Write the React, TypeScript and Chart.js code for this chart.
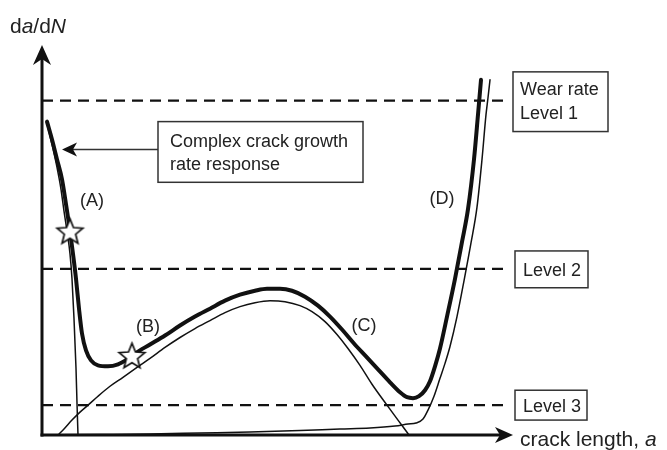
import React, { useEffect, useRef } from "react";
import { Chart, registerables } from "chart.js";

Chart.register(...registerables);

const FONT = '"Liberation Sans", Arial, Helvetica, sans-serif';

// Schematic units: crack length 0..470, da/dN 0..392
const X_MAX = 470;
const Y_MAX = 392;

// Thick composite curve: "Complex crack growth rate response"
const combinedResponse: [number, number][] = [
  [5, 315], [10, 297], [15, 277], [20, 257], [24, 232], [28, 205], [31, 182], [34, 157],
  [37, 127], [40, 102], [44, 85], [49, 75], [56, 70], [66, 69], [76, 71], [85, 76],
  [93, 82], [108, 91], [123, 100], [138, 110], [153, 119], [168, 127], [183, 135],
  [198, 141], [213, 145], [225, 147], [238, 147], [250, 145], [263, 139], [276, 130],
  [288, 119], [300, 106], [312, 92], [324, 79], [336, 66], [348, 53], [358, 43],
  [365, 38], [371, 37], [377, 39], [383, 45], [388, 54], [393, 69], [398, 87],
  [405, 119], [413, 157], [420, 194], [426, 227], [432, 277], [436, 322], [439, 357],
];

// Thin branch (A): short crack decay
const shortCrackBranch: [number, number][] = [
  [5, 313], [10, 292], [15, 269], [19, 247], [22, 225], [25, 205], [28, 182],
  [30, 157], [32, 117], [34, 67], [35, 32], [36, 0],
];

// Thin branch (B)-(C): long crack hump
const longCrackBranch: [number, number][] = [
  [16, 0], [22, 6], [30, 15], [38, 23], [46, 30], [56, 39], [68, 49], [81, 58],
  [95, 68], [108, 77], [123, 88], [138, 98], [153, 107], [168, 115], [183, 123],
  [198, 129], [213, 133], [228, 135], [243, 134], [258, 130], [270, 124], [283, 114],
  [295, 101], [306, 87], [318, 70], [330, 51], [345, 30], [356, 15], [367, 0],
];

// Thin branch (D): wear-driven growth
const wearBranch: [number, number][] = [
  [0, 0], [58, 0.5], [108, 1], [158, 2], [208, 3], [258, 4.5], [298, 6], [328, 7],
  [353, 9], [366, 11], [374, 12], [381, 16], [386, 25], [392, 39], [398, 57],
  [403, 72], [408, 89], [415, 119], [422, 155], [429, 193], [435, 229], [440, 277],
  [444, 322], [446, 339], [448, 357],
];

// Transition stars
const starPoints: [number, number][] = [[28, 205], [90, 80]];

// Wear rate levels
const levelRates = [336, 167, 30];
const levelLabels = [["Wear rate", "Level 1"], ["Level 2"], ["Level 3"]];
const levelLineEnd = 463;

const phaseLabels = ["(A)", "(B)", "(C)", "(D)"];
const calloutLines = ["Complex crack growth", "rate response"];

// Annotation layout (data units)
const layout = {
  phasePos: [[50, 235], [106, 109], [322, 110], [400, 237]] as [number, number][],
  callout: { x0: 116, x1: 321, y0: 315, y1: 254, arrowY: 287, arrowTip: 20, textX: 128, base: [289, 266] },
  levelBoxes: [
    { x0: 471, x1: 566, y0: 365, y1: 305, textX: 478, base: [342, 318] },
    { x0: 473, x1: 546, y0: 185, y1: 148, textX: 481, base: [160] },
    { x0: 473, x1: 545, y0: 45, y1: 15, textX: 481, base: [23] },
  ],
};

function makeStar(r: number): HTMLCanvasElement {
  const size = Math.ceil(r * 2 + 6);
  const c = document.createElement("canvas");
  c.width = size;
  c.height = size;
  const g = c.getContext("2d")!;
  const cx = size / 2;
  const cy = size / 2 + r * 0.1;
  g.beginPath();
  for (let i = 0; i < 10; i++) {
    const ang = -Math.PI / 2 + (i * Math.PI) / 5;
    const rr = i % 2 === 0 ? r : r * 0.44;
    g.lineTo(cx + rr * Math.cos(ang), cy + rr * Math.sin(ang));
  }
  g.closePath();
  g.fillStyle = "#fff";
  g.fill();
  g.lineWidth = 1.7;
  g.strokeStyle = "#111";
  g.lineJoin = "miter";
  g.stroke();
  return c;
}

function arrowHead(ctx: CanvasRenderingContext2D, tx: number, ty: number, dx: number, dy: number, L: number, W: number, notch: number) {
  const px = -dy, py = dx;
  ctx.beginPath();
  ctx.moveTo(tx, ty);
  ctx.lineTo(tx - L * dx + W * px, ty - L * dy + W * py);
  ctx.lineTo(tx - (L - notch) * dx, ty - (L - notch) * dy);
  ctx.lineTo(tx - L * dx - W * px, ty - L * dy - W * py);
  ctx.closePath();
  ctx.fill();
}

function drawMixed(ctx: CanvasRenderingContext2D, x: number, y: number, parts: [string, boolean][], size: number) {
  let cx = x;
  for (const [t, it] of parts) {
    ctx.font = `${it ? "italic " : ""}${size}px ${FONT}`;
    ctx.fillText(t, cx, y);
    cx += ctx.measureText(t).width;
  }
}

const schematicPlugin = {
  id: "schematic",
  beforeDatasetsDraw(chart: any) {
    const ctx: CanvasRenderingContext2D = chart.ctx;
    const X = (v: number) => chart.scales.x.getPixelForValue(v);
    const Y = (v: number) => chart.scales.y.getPixelForValue(v);
    const left = X(0), bottom = Y(0);
    ctx.save();
    ctx.strokeStyle = "#111";
    ctx.fillStyle = "#111";
    ctx.lineWidth = 3;
    ctx.beginPath();
    ctx.moveTo(left, bottom + 1.5);
    ctx.lineTo(left, Y(Y_MAX) + 14);
    ctx.stroke();
    ctx.beginPath();
    ctx.moveTo(left - 1.5, bottom);
    ctx.lineTo(X(X_MAX) - 12, bottom);
    ctx.stroke();
    arrowHead(ctx, left, Y(Y_MAX), 0, -1, 20, 9, 6);
    arrowHead(ctx, X(X_MAX) + 1, bottom, 1, 0, 18, 8, 5);
    ctx.restore();
  },
  afterDatasetsDraw(chart: any) {
    const ctx: CanvasRenderingContext2D = chart.ctx;
    const X = (v: number) => chart.scales.x.getPixelForValue(v);
    const Y = (v: number) => chart.scales.y.getPixelForValue(v);
    ctx.save();
    ctx.fillStyle = "#222";
    ctx.textBaseline = "alphabetic";

    // axis titles
    drawMixed(ctx, 10, 33, [["d", false], ["a", true], ["/d", false], ["N", true]], 21);
    drawMixed(ctx, X(X_MAX) + 8, 446, [["crack length, ", false], ["a", true]], 21);

    // phase labels
    ctx.font = `18px ${FONT}`;
    ctx.textAlign = "center";
    ctx.textBaseline = "middle";
    phaseLabels.forEach((t, i) => {
      const [x, y] = layout.phasePos[i];
      ctx.fillText(t, X(x), Y(y));
    });
    ctx.textAlign = "left";
    ctx.textBaseline = "alphabetic";

    // callout box + arrow
    const c = layout.callout;
    ctx.strokeStyle = "#333";
    ctx.lineWidth = 1.5;
    ctx.fillStyle = "#fff";
    ctx.fillRect(X(c.x0), Y(c.y0), X(c.x1) - X(c.x0), Y(c.y1) - Y(c.y0));
    ctx.strokeRect(X(c.x0), Y(c.y0), X(c.x1) - X(c.x0), Y(c.y1) - Y(c.y0));
    ctx.beginPath();
    ctx.moveTo(X(c.x0), Y(c.arrowY));
    ctx.lineTo(X(c.arrowTip) + 10, Y(c.arrowY));
    ctx.stroke();
    ctx.fillStyle = "#111";
    arrowHead(ctx, X(c.arrowTip), Y(c.arrowY), -1, 0, 15, 7, 4);
    ctx.fillStyle = "#222";
    ctx.font = `18px ${FONT}`;
    calloutLines.forEach((t, i) => ctx.fillText(t, X(c.textX), Y(c.base[i])));

    // level boxes
    layout.levelBoxes.forEach((b, i) => {
      ctx.fillStyle = "#fff";
      ctx.fillRect(X(b.x0), Y(b.y0), X(b.x1) - X(b.x0), Y(b.y1) - Y(b.y0));
      ctx.strokeRect(X(b.x0), Y(b.y0), X(b.x1) - X(b.x0), Y(b.y1) - Y(b.y0));
      ctx.fillStyle = "#222";
      levelLabels[i].forEach((t, j) => ctx.fillText(t, X(b.textX), Y(b.base[j])));
    });
    ctx.restore();
  },
};

export default function App() {
  const ref = useRef<HTMLCanvasElement>(null);
  useEffect(() => {
    if (!ref.current) return;
    const star = makeStar(13.5);
    const toXY = (pts: [number, number][]) => pts.map(([x, y]) => ({ x, y }));
    const curve = (label: string, pts: [number, number][], w: number) => ({
      label,
      data: toXY(pts),
      borderColor: "#111",
      borderWidth: w,
      pointRadius: 0,
      fill: false,
      cubicInterpolationMode: "monotone" as const,
      clip: false as any,
      borderCapStyle: "round" as const,
      borderJoinStyle: "round" as const,
    });
    const levelSets = levelRates.map((r, i) => ({
      label: `level${i + 1}`,
      data: [{ x: 0, y: r }, { x: levelLineEnd, y: r }],
      borderColor: "#111",
      borderWidth: 2.2,
      borderDash: [11, 7],
      pointRadius: 0,
      fill: false,
      tension: 0,
      clip: false as any,
    }));
    const chart = new Chart(ref.current, {
      type: "line",
      data: {
        datasets: [
          {
            label: "transitions",
            data: toXY(starPoints),
            showLine: false,
            pointStyle: star as any,
            pointRadius: 14,
            borderColor: "#222",
            backgroundColor: "#fff",
            clip: false as any,
          } as any,
          curve("combined", combinedResponse, 4),
          curve("short", shortCrackBranch, 1.5),
          curve("long", longCrackBranch, 1.5),
          curve("wear", wearBranch, 1.5),
          ...levelSets,
        ],
      },
      options: {
        animation: false,
        responsive: false,
        devicePixelRatio: 1,
        layout: { padding: { left: 42, right: 155, top: 45, bottom: 13 } },
        plugins: { legend: { display: false }, tooltip: { enabled: false } },
        scales: {
          x: { type: "linear", min: 0, max: X_MAX, display: false },
          y: { type: "linear", min: 0, max: Y_MAX, display: false },
        },
      },
      plugins: [schematicPlugin],
    });
    return () => chart.destroy();
  }, []);
  return (
    <div style={{ position: "absolute", left: 0, top: 0, width: 667, height: 450, background: "#fff" }}>
      <canvas ref={ref} width={667} height={450} />
    </div>
  );
}
